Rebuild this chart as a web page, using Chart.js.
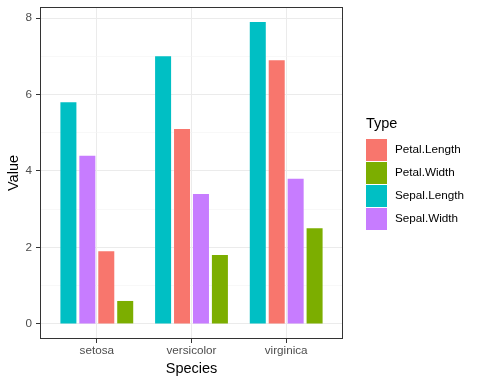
<!DOCTYPE html>
<html lang="en">
<head>
  <meta charset="UTF-8" />
  <title>Iris max values by species</title>
  <script src="https://cdn.jsdelivr.net/npm/chart.js"></script>
  <style>
    body { margin: 0; background: #fff; }
    #wrap { width: 480px; height: 384px; }
  </style>
</head>
<body>
  <div id="wrap"><canvas id="grafico"></canvas></div>

  <script>
    // data
    const species = ["setosa", "versicolor", "virginica"];
    const types = ["Petal.Length", "Petal.Width", "Sepal.Length", "Sepal.Width"];
    const petalLength = [1.9, 5.1, 6.9];
    const petalWidth = [0.6, 1.8, 2.5];
    const sepalLength = [5.8, 7.0, 7.9];
    const sepalWidth = [4.4, 3.4, 3.8];
    const yTicks = [0, 2, 4, 6, 8];

    const colors = ["#F8766D", "#7CAE00", "#00BFC4", "#C77CFF"];
    const series = [petalLength, petalWidth, sepalLength, sepalWidth];
    const font = "'Liberation Sans', Arial, sans-serif";

    // bars are dodged in descending order inside each species
    const order = species.map((s, i) =>
      types.map((t, k) => k).sort((a, b) => series[b][i] - series[a][i])
    );
    const datasets = [0, 1, 2, 3].map(r => ({
      data: species.map((s, i) => ({ x: i + 1, y: series[order[i][r]][i] })),
      backgroundColor: species.map((s, i) => colors[order[i][r]]),
      borderWidth: 0,
      categoryPercentage: 0.8,
      barPercentage: 0.845
    }));

    const panel = {
      id: "panel",
      afterDraw(chart) {
        const c = chart.ctx, a = chart.chartArea;
        c.save();
        c.strokeStyle = "#333333";
        c.lineWidth = 1;
        c.strokeRect(Math.round(a.left) + 0.5, Math.round(a.top) + 0.5,
          Math.round(a.right - a.left) - 1, Math.round(a.bottom - a.top) - 1);
        // legend
        c.fillStyle = "#000";
        c.font = "14.5px " + font;
        c.textBaseline = "middle";
        c.fillText("Type", 366, 124);
        c.font = "11.7px " + font;
        types.forEach((t, k) => {
          const y = 139 + k * 23;
          c.fillStyle = colors[k];
          c.fillRect(366, y, 21, 22);
          c.fillStyle = "#000";
          c.fillText(t, 395, y + 11);
        });
        c.restore();
      }
    };

    new Chart(document.getElementById("grafico"), {
      type: "bar",
      data: { datasets },
      plugins: [panel],
      options: {
        responsive: true,
        maintainAspectRatio: false,
        animation: false,
        layout: { padding: { top: 7, right: 137, left: 0, bottom: 6 } },
        plugins: { legend: { display: false }, tooltip: { enabled: false } },
        scales: {
          x: {
            type: "linear",
            min: 0.4, max: 3.6,
            offset: false,
            afterBuildTicks: s => { s.ticks = species.map((n, i) => ({ value: i + 1 })); },
            afterFit: s => { s.height = 39; },
            ticks: {
              callback: v => species[v - 1],
              color: "#4d4d4d",
              font: { family: font, size: 11.7 },
              padding: 1,
              maxRotation: 0,
              autoSkip: false
            },
            grid: { offset: false, color: "#ebebeb", tickColor: "#333333", tickLength: 4 },
            border: { display: false },
            title: {
              display: true, text: "Species", color: "#000",
              font: { family: font, size: 14.5 }, padding: { top: 0, bottom: 0 }
            }
          },
          y: {
            min: -0.395, max: 8.29,
            afterBuildTicks: s => { s.ticks = [0, 1, 2, 3, 4, 5, 6, 7, 8].map(v => ({ value: v })); },
            afterFit: s => { s.width = 40; s.paddingTop = 0; s.paddingBottom = 0; },
            ticks: {
              callback: v => (yTicks.includes(v) ? v : ""),
              color: "#4d4d4d",
              font: { family: font, size: 11.7 },
              padding: 4
            },
            grid: {
              color: ctx => (ctx.tick && ctx.tick.value % 2 === 0 ? "#ebebeb" : "#f4f4f4"),
              lineWidth: ctx => (ctx.tick && ctx.tick.value % 2 === 0 ? 1 : 0.6),
              tickColor: ctx => (ctx.tick && ctx.tick.value % 2 === 0 ? "#333333" : "rgba(0,0,0,0)"),
              tickLength: 4
            },
            border: { display: false },
            title: {
              display: true, text: "Value", color: "#000",
              font: { family: font, size: 14.5 }, padding: { top: 5, bottom: 0 }
            }
          }
        }
      }
    });
  </script>
</body>
</html>
